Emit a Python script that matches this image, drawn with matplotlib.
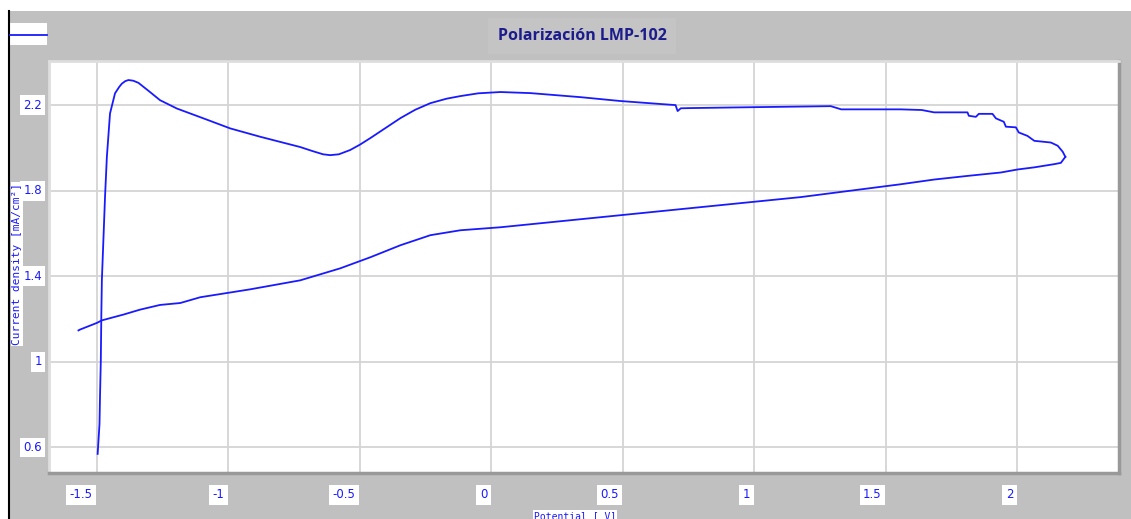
import matplotlib
matplotlib.use("Agg")
import matplotlib.pyplot as plt
from matplotlib.patches import Rectangle
from matplotlib.lines import Line2D

# forward scan (V, mA/cm2)
fwd_v = [-1.497, -1.490, -1.488, -1.485, -1.483, -1.481, -1.469, -1.462, -1.450,
         -1.431, -1.415, -1.405, -1.392, -1.380, -1.362, -1.342, -1.300, -1.260,
         -1.196, -1.095, -0.993, -0.879, -0.800, -0.727, -0.680, -0.640, -0.613,
         -0.580, -0.537, -0.500, -0.460, -0.400, -0.346, -0.290, -0.232, -0.170,
         -0.118, -0.050, 0.034, 0.148,
         0.339, 0.490, 0.643, 0.700, 0.708, 0.720, 0.757, 0.985, 1.290, 1.330,
         1.556, 1.636, 1.683, 1.810, 1.815, 1.842, 1.853, 1.905, 1.918, 1.948,
         1.956, 1.994, 2.005, 2.038, 2.064, 2.127, 2.153, 2.172, 2.182]
fwd_j = [0.570, 0.710, 0.843, 1.007, 1.225, 1.381, 1.771, 1.958, 2.161,
         2.255, 2.285, 2.300, 2.312, 2.317, 2.314, 2.304, 2.263, 2.223,
         2.184, 2.138, 2.091, 2.052, 2.027, 2.004, 1.985, 1.970, 1.966,
         1.970, 1.990, 2.015, 2.046, 2.095, 2.139, 2.178, 2.209, 2.230,
         2.242, 2.255, 2.261, 2.256,
         2.237, 2.219, 2.205, 2.200, 2.172, 2.185, 2.186, 2.190, 2.195, 2.180,
         2.180, 2.177, 2.166, 2.166, 2.150, 2.145, 2.159, 2.159, 2.138, 2.122,
         2.099, 2.096, 2.072, 2.056, 2.033, 2.025, 2.010, 1.982, 1.958]

# reverse scan
rev_v = [2.182, 2.165, 2.140, 2.064, 2.000, 1.937, 1.810, 1.683, 1.556, 1.176,
         0.795, 0.415, 0.034, -0.118, -0.232, -0.346, -0.460, -0.575, -0.727,
         -0.917, -1.107, -1.183, -1.260, -1.336, -1.399, -1.481, -1.500, -1.564,
         -1.570]
rev_j = [1.958, 1.930, 1.924, 1.909, 1.899, 1.885, 1.869, 1.852, 1.830, 1.770,
         1.723, 1.676, 1.629, 1.615, 1.592, 1.545, 1.489, 1.437, 1.381,
         1.339, 1.302, 1.275, 1.266, 1.244, 1.221, 1.194, 1.182, 1.151,
         1.147]

x_ticks = [-1.5, -1, -0.5, 0, 0.5, 1, 1.5, 2]
x_labels = ["-1.5", "-1", "-0.5", "0", "0.5", "1", "1.5", "2"]
y_ticks = [0.6, 1.0, 1.4, 1.8, 2.2]
y_labels = ["0.6", "1", "1.4", "1.8", "2.2"]

W, H = 1131, 519
bg = "#c0c0c0"
blue = "#1a1aff"

fig = plt.figure(figsize=(W / 100, H / 100), dpi=100, facecolor=bg)

# white strip on top and black left rule
fig.patches.append(Rectangle((0, 1 - 11 / H), 1, 11 / H, transform=fig.transFigure,
                             facecolor="white", edgecolor="none", zorder=0))
fig.patches.append(Rectangle((0, 0), 8 / W, 1 - 11 / H, transform=fig.transFigure,
                             facecolor="white", edgecolor="none", zorder=0))
fig.lines.append(Line2D([8.5 / W, 8.5 / W], [0, 1 - 11 / H], transform=fig.transFigure,
                        color="black", lw=1.5))

left, right, top, bottom = 49, 1119, 61, 472.5
ax = fig.add_axes([left / W, 1 - bottom / H, (right - left) / W, (bottom - top) / H])
ax.set_facecolor("white")

ax.plot(fwd_v, fwd_j, color=blue, lw=1.3, solid_joinstyle="round")
ax.plot(rev_v, rev_j, color=blue, lw=1.3, solid_joinstyle="round")

ax.set_xlim(-1.682, 2.386)
ax.set_ylim(0.483, 2.406)
ax.set_xticks(x_ticks)
ax.set_yticks(y_ticks)
ax.grid(True, color="#d4d4d4", lw=1.3)
ax.set_axisbelow(True)

for side in ["top", "left"]:
    ax.spines[side].set_color("#dedede")
    ax.spines[side].set_linewidth(2)
for side in ["right", "bottom"]:
    ax.spines[side].set_color("#999999")
    ax.spines[side].set_linewidth(2.5)

ax.tick_params(length=0)
box = dict(facecolor="white", edgecolor="none", pad=2.5)
ax.set_xticklabels([])
ax.set_yticklabels([])
for v, s in zip(x_ticks, x_labels):
    ax.annotate(s, (v, 0), xycoords=("data", "axes fraction"),
                xytext=(-3, -16), textcoords="offset points",
                ha="right", va="center", color=blue, fontsize=8.5, bbox=box)
for v, s in zip(y_ticks, y_labels):
    ax.annotate(s, (0, v), xycoords=("axes fraction", "data"),
                xytext=(-5, 0), textcoords="offset points",
                ha="right", va="center", color=blue, fontsize=8.5, bbox=box)

fig.text(575 / W, 1 - 516 / H, "Potential [ V]", family="DejaVu Sans Mono",
         fontsize=7, color=blue, ha="center", va="center",
         bbox=dict(facecolor="white", edgecolor="none", pad=1))
fig.text(17 / W, 1 - 264 / H, "Current density [mA/cm\u00b2]", family="DejaVu Sans Mono",
         fontsize=8, color=blue, rotation=90, ha="center", va="center",
         bbox=dict(facecolor="white", edgecolor="none", pad=0.5))

fig.text(582 / W, 1 - 36 / H, "Polarización LMP-102", fontsize=11.5, fontweight="bold",
         family="Open Sans", color="#1c1c8c", ha="center", va="center",
         bbox=dict(facecolor="#c4c4c4", edgecolor="none", pad=7))

# legend key, top left
fig.patches.append(Rectangle((10 / W, 1 - 45 / H), 37 / W, 22 / H, transform=fig.transFigure,
                             facecolor="white", edgecolor="none"))
fig.lines.append(Line2D([10 / W, 47 / W], [1 - 35 / H, 1 - 35 / H], transform=fig.transFigure,
                        color=blue, lw=1.3))

fig.savefig("out.png", dpi=100, facecolor=bg)
